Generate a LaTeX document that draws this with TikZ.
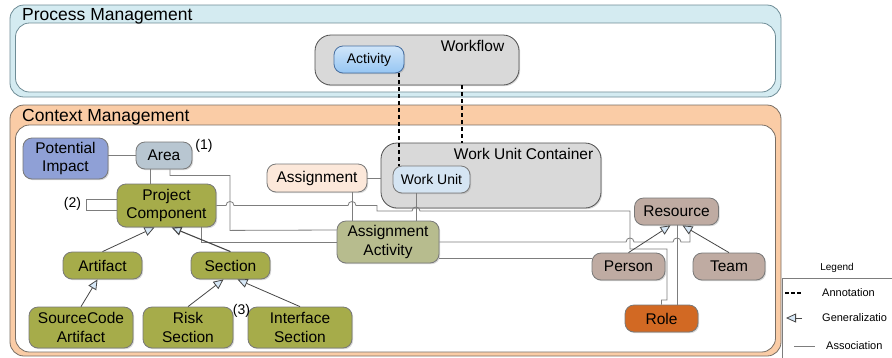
\documentclass[tikz,border=0pt]{standalone}
\usepackage{fontspec}
\setmainfont{Liberation Sans}
\usetikzlibrary{arrows.meta,shadows}
\definecolor{pmfill}{RGB}{212,235,241}
\definecolor{pmline}{RGB}{110,140,150}
\definecolor{cmfill}{RGB}{250,204,166}
\definecolor{cmline}{RGB}{120,110,100}
\definecolor{boxgray}{RGB}{217,217,217}
\definecolor{boxline}{RGB}{80,80,80}
\definecolor{actfill}{RGB}{150,198,243}
\definecolor{actline}{RGB}{70,110,160}
\definecolor{wufill}{RGB}{213,229,243}
\definecolor{pifill}{RGB}{143,160,214}
\definecolor{areafill}{RGB}{184,198,209}
\definecolor{olive}{RGB}{166,172,74}
\definecolor{asgfill}{RGB}{252,232,218}
\definecolor{aafill}{RGB}{183,188,142}
\definecolor{brownfill}{RGB}{191,171,162}
\definecolor{rolefill}{RGB}{210,105,35}
\definecolor{ndline}{RGB}{120,120,120}
\definecolor{conn}{RGB}{125,125,125}
\definecolor{tipline}{RGB}{70,70,70}
\definecolor{tipfill}{RGB}{215,232,247}
\newcommand{\ndfont}{\fontsize{15.5}{18.5}\selectfont}
\newcommand{\smfont}{\fontsize{14}{16}\selectfont}
\newcommand{\ttlfont}{\fontsize{17.5}{20}\selectfont}
\newcommand{\lgfont}{\fontsize{11}{13}\selectfont}
\begin{document}
\begin{tikzpicture}[x=1pt,y=-1pt,
  nd/.style={draw=ndline, line width=0.8pt, rounded corners=9, inner sep=0pt, align=center, font=\ndfont,
    drop shadow={shadow xshift=1.2pt, shadow yshift=-1.2pt, opacity=0.3}},
  frame/.style={line width=0.8pt, inner sep=0pt},
  assoc/.style={draw=conn, line width=0.8pt},
  gen/.style={draw=tipline, line width=0.8pt, -{Triangle[length=10pt, width=9pt, fill=tipfill]}},
  anno/.style={draw=black, line width=1.7pt, dash pattern=on 4pt off 3pt},
  lbl/.style={inner sep=0pt, font=\ndfont},
]
\useasboundingbox (0,0) rectangle (892,357);
\clip (0,0) rectangle (892,357);

% ---------- containers ----------
\node[frame, draw=pmline, fill=pmfill, rounded corners=14, minimum width=771, minimum height=92] (pm) at (395.5,51) {};
\node[frame, draw=pmline, fill=white, rounded corners=14, minimum width=760, minimum height=69] (pmin) at (395.5,57.5) {};
\node[lbl, font=\ttlfont, anchor=base west] (pmt) at (22,20) {Process Management};

\node[frame, draw=cmline, fill=cmfill, rounded corners=14, minimum width=771, minimum height=251] (cm) at (395.5,230.5) {};
\node[frame, draw=cmline, fill=white, rounded corners=14, minimum width=760, minimum height=227] (cmin) at (395.5,238.5) {};
\node[lbl, font=\ttlfont, anchor=base west] (cmt) at (22,121) {Context Management};

% ---------- process nodes ----------
\node[nd, fill=boxgray, draw=boxline, rounded corners=16, minimum width=204, minimum height=50] (wf) at (417,60) {};
\node[lbl, anchor=north east] (wft) at ([xshift=-15pt, yshift=-5pt]wf.north east) {Workflow};
\node[nd, draw=actline, top color=actfill!45!white, bottom color=actfill, minimum width=70, minimum height=27, font=\smfont] (act) at (369,59.5) {Activity};

% ---------- context nodes ----------
\node[nd, fill=boxgray, draw=boxline, rounded corners=16, minimum width=220, minimum height=65] (wuc) at (491,175.5) {};
\node[lbl, anchor=north east] (wuct) at ([xshift=-8pt, yshift=-5pt]wuc.north east) {Work Unit Container};
\node[nd, fill=wufill, minimum width=77, minimum height=27, font=\smfont] (wu) at (431.5,179.5) {Work Unit};

\node[nd, fill=pifill, minimum width=85, minimum height=41] (pi) at (65.5,158.5) {Potential\\Impact};
\node[nd, fill=areafill, minimum width=56, minimum height=27] (area) at (164,155.5) {Area};
\node[nd, fill=olive, minimum width=99, minimum height=43] (pc) at (166.5,205.5) {Project\\Component};
\node[nd, fill=asgfill, minimum width=100, minimum height=28] (asg) at (317,178) {Assignment};
\node[nd, fill=aafill, minimum width=102, minimum height=42] (aa) at (388,242) {Assignment\\Activity};
\node[nd, fill=brownfill, minimum width=84, minimum height=27] (res) at (676.5,211.5) {Resource};
\node[nd, fill=brownfill, minimum width=73, minimum height=27] (person) at (628.5,266.5) {Person};
\node[nd, fill=brownfill, minimum width=72, minimum height=27] (team) at (729,266.5) {Team};
\node[nd, fill=rolefill, minimum width=73, minimum height=27] (role) at (661.5,318.5) {Role};
\node[nd, fill=olive, minimum width=79, minimum height=27] (art) at (102.5,265.5) {Artifact};
\node[nd, fill=olive, minimum width=79, minimum height=27] (sec) at (230.5,265.5) {Section};
\node[nd, fill=olive, minimum width=104, minimum height=41] (sca) at (81,327.5) {SourceCode\\Artifact};
\node[nd, fill=olive, minimum width=90, minimum height=41] (risk) at (188,327.5) {Risk\\Section};
\node[nd, fill=olive, minimum width=104, minimum height=41] (iface) at (300,327.5) {Interface\\Section};

\node[lbl, font=\smfont] (n1) at (204,145.5) {(1)};
\node[lbl, font=\smfont] (n2) at (72.5,203.5) {(2)};
\node[lbl, font=\smfont] (n3) at (241.5,311) {(3)};

% ---------- associations ----------
\draw[assoc] (area.west) -- (area.west -| pi.east);
\draw[assoc] ([xshift=-14pt]area.south) -- ([xshift=-16.5pt]pc.north);
\draw[assoc] ([xshift=6pt]area.south) -- ++(0,6) -- ++(60,0) -- ++(0,55) -- ([yshift=12pt]aa.west);
\draw[assoc] ([xshift=34.5pt]pc.south) |- (aa.west);
\draw[assoc] ([yshift=6.5pt]pc.west) -- ++(-30,0) |- ([yshift=-4.5pt]pc.west);
\draw[assoc] (asg.east) -- (asg.east -| wuc.west);
\draw[assoc] ([xshift=35pt]asg.south) -- ([xshift=-36pt]aa.north);
\draw[assoc] ([xshift=-15.5pt]wu.south) -- ([xshift=28pt]aa.north);
\draw[assoc] (pc.east) -- (226,205.5) .. controls (226,200.2) and (234,200.2) .. (234,205.5)
  -- (348,205.5) .. controls (348,200.2) and (356,200.2) .. (356,205.5)
  -- (377,205.5) -- (377,211)
  -- (412,211) .. controls (412,205.7) and (420,205.7) .. (420,211)
  -- (630,211) -- (630,249) -- (667,249) -- (667,300) -- (661.5,300) -- (role.north);
\draw[assoc] (aa.east) -- (626,242) .. controls (626,236.7) and (634,236.7) .. (634,242)
  -- (673,242) .. controls (673,236.7) and (681,236.7) .. (681,242)
  -- (690,242) -- ([xshift=13.5pt]res.south);
\draw[assoc] ([yshift=-16pt]aa.east) -- ([yshift=-16pt]aa.east -| person.west);
\draw[assoc] ([xshift=15.5pt]role.north) -- ([xshift=0.5pt]res.south);

% ---------- generalizations ----------
\draw[gen] (art.north) -- ([xshift=-12pt]pc.south);
\draw[gen, line width=1.1pt] (sec.north) -- ([xshift=5pt]pc.south);
\draw[gen] (sca.north) -- ([xshift=-5pt]art.south);
\draw[gen] (risk.north) -- ([xshift=-7pt]sec.south);
\draw[gen] (iface.north) -- ([xshift=7pt]sec.south);
\draw[gen] (person.north) -- ([xshift=-6pt]res.south);
\draw[gen] (team.north) -- ([xshift=6pt]res.south);

% ---------- annotations ----------
\draw[anno] ([xshift=30pt]act.south) -- ([xshift=-32.5pt]wu.north);
\draw[anno] ([xshift=45pt]wf.south) -- ([xshift=-29pt]wuc.north);

% ---------- legend ----------
\node[lbl, font=\fontsize{10}{12}\selectfont] (lgt) at (837,268) {Legend};
\node[frame, draw=conn, fill=white, anchor=north west, minimum width=130, minimum height=90] (lgbox) at (782,278) {};
\coordinate (la1) at (785,293);
\coordinate (la2) at (801,293);
\draw[anno, dash pattern=on 3.5pt off 2.5pt] (la1) -- (la2);
\node[lbl, font=\lgfont, anchor=west] (lga) at (822,293) {Annotation};
\coordinate (lg1) at (802,318);
\coordinate (lg2) at (786,318);
\draw[gen] (lg1) -- (lg2);
\node[lbl, font=\lgfont, anchor=west] (lgg) at (822,318) {Generalizatio};
\coordinate (ls1) at (794,346);
\coordinate (ls2) at (815,346);
\draw[assoc] (ls1) -- (ls2);
\node[lbl, font=\lgfont, anchor=west] (lgs) at (826,346) {Association};
\end{tikzpicture}
\end{document}
